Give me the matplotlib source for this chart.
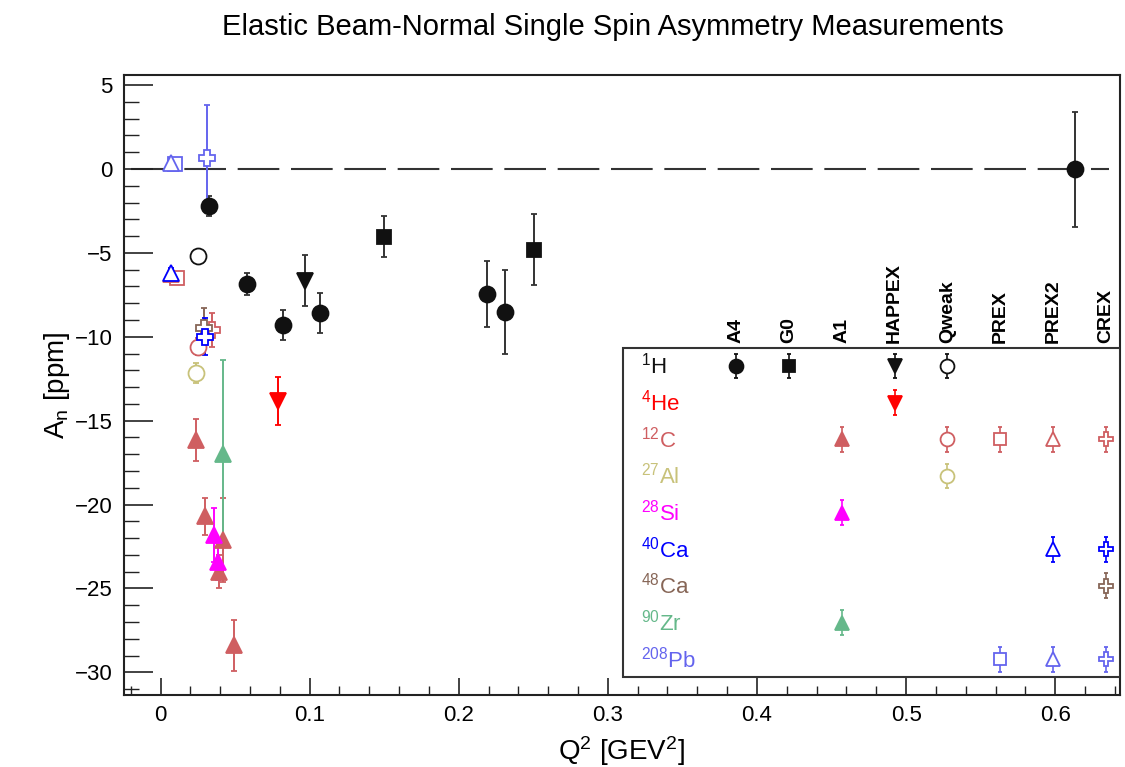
import matplotlib.pyplot as plt
from matplotlib.patches import Rectangle
from matplotlib.ticker import MultipleLocator, FuncFormatter

plt.rcParams['font.family'] = 'Liberation Sans'
plt.rcParams['mathtext.fontset'] = 'custom'
plt.rcParams['mathtext.rm'] = 'Liberation Sans'
plt.rcParams['mathtext.it'] = 'Liberation Sans:italic'
plt.rcParams['mathtext.bf'] = 'Liberation Sans:bold'

# legend columns / rows
experiments = ['A4', 'G0', 'A1', 'HAPPEX', 'Qweak', 'PREX', 'PREX2', 'CREX']
nuclei = ['$^{1}$H', '$^{4}$He', '$^{12}$C', '$^{27}$Al', '$^{28}$Si',
          '$^{40}$Ca', '$^{48}$Ca', '$^{90}$Zr', '$^{208}$Pb']
nucleus_colors = ['#111111', '#ff0000', '#cf5e61', '#c8c27a', '#ff00ff',
                  '#0000ff', '#876657', '#65b88a', '#6464ee']
# marker, filled
exp_markers = {'A4': ('o', True), 'G0': ('s', True), 'A1': ('^', True),
               'HAPPEX': ('v', True), 'Qweak': ('o', False), 'PREX': ('s', False),
               'PREX2': ('^', False), 'CREX': ('P', False)}

# ---- data: Q^2 [GeV^2], A_n [ppm], error [ppm] ----
# 1H
q_h_a4 = [0.0325, 0.0578, 0.0824, 0.107, 0.2188, 0.231, 0.613]
an_h_a4 = [-2.23, -6.85, -9.29, -8.57, -7.44, -8.50, -0.03]
err_h_a4 = [0.6, 0.65, 0.9, 1.2, 1.97, 2.5, 3.45]
q_h_g0 = [0.150, 0.2505]
an_h_g0 = [-4.03, -4.80]
err_h_g0 = [1.2, 2.1]
q_h_happex = [0.0969]
an_h_happex = [-6.65]
err_h_happex = [1.5]
q_h_qweak = [0.025]
an_h_qweak = [-5.19]
err_h_qweak = [0.11]
# 4He
q_he_happex = [0.0786]
an_he_happex = [-13.83]
err_he_happex = [1.45]
# 12C
q_c_a1 = [0.0236, 0.0298, 0.0417, 0.0395, 0.0493]
an_c_a1 = [-16.13, -20.7, -22.1, -24.0, -28.4]
err_c_a1 = [1.25, 1.1, 2.5, 1.0, 1.5]
q_c_qweak = [0.025]
an_c_qweak = [-10.6]
err_c_qweak = [0.5]
q_c_prex = [0.0108]
an_c_prex = [-6.5]
err_c_prex = [0.3]
q_c_prex2 = [0.0068]
an_c_prex2 = [-6.25]
err_c_prex2 = [0.3]
q_c_crex = [0.0343]
an_c_crex = [-9.6]
err_c_crex = [1.0]
# 27Al
q_al_qweak = [0.0238]
an_al_qweak = [-12.17]
err_al_qweak = [0.6]
# 28Si
q_si_a1 = [0.0361, 0.0383]
an_si_a1 = [-21.8, -23.4]
err_si_a1 = [1.6, 1.1]
# 40Ca
q_ca40_prex2 = [0.0068]
an_ca40_prex2 = [-6.2]
err_ca40_prex2 = [0.3]
q_ca40_crex = [0.0298]
an_ca40_crex = [-10.0]
err_ca40_crex = [1.1]
# 48Ca
q_ca48_crex = [0.0294]
an_ca48_crex = [-9.5]
err_ca48_crex = [1.2]
# 90Zr
q_zr_a1 = [0.0421]
an_zr_a1 = [-16.96]
err_zr_a1 = [5.6]
# 208Pb
q_pb_prex = [0.0095]
an_pb_prex = [0.3]
err_pb_prex = [0.2]
q_pb_prex2 = [0.0068]
an_pb_prex2 = [0.35]
err_pb_prex2 = [0.1]
q_pb_crex = [0.0314]
an_pb_crex = [0.65]
err_pb_crex = [3.15]

# (row, experiment, q, an, err) in drawing order
series = [
    (0, 'A4', q_h_a4, an_h_a4, err_h_a4),
    (0, 'G0', q_h_g0, an_h_g0, err_h_g0),
    (0, 'HAPPEX', q_h_happex, an_h_happex, err_h_happex),
    (0, 'Qweak', q_h_qweak, an_h_qweak, err_h_qweak),
    (1, 'HAPPEX', q_he_happex, an_he_happex, err_he_happex),
    (2, 'A1', q_c_a1, an_c_a1, err_c_a1),
    (2, 'Qweak', q_c_qweak, an_c_qweak, err_c_qweak),
    (2, 'PREX', q_c_prex, an_c_prex, err_c_prex),
    (2, 'PREX2', q_c_prex2, an_c_prex2, err_c_prex2),
    (2, 'CREX', q_c_crex, an_c_crex, err_c_crex),
    (3, 'Qweak', q_al_qweak, an_al_qweak, err_al_qweak),
    (7, 'A1', q_zr_a1, an_zr_a1, err_zr_a1),
    (4, 'A1', q_si_a1, an_si_a1, err_si_a1),
    (6, 'CREX', q_ca48_crex, an_ca48_crex, err_ca48_crex),
    (5, 'PREX2', q_ca40_prex2, an_ca40_prex2, err_ca40_prex2),
    (5, 'CREX', q_ca40_crex, an_ca40_crex, err_ca40_crex),
    (8, 'PREX', q_pb_prex, an_pb_prex, err_pb_prex),
    (8, 'PREX2', q_pb_prex2, an_pb_prex2, err_pb_prex2),
    (8, 'CREX', q_pb_crex, an_pb_crex, err_pb_crex),
]

fig = plt.figure(figsize=(11.25, 7.67), dpi=100)
ax = fig.add_axes([0.1098, 0.0939, 0.8858, 0.8083])

ax.plot([-0.0195, 0.636], [0, 0], color='#333333', lw=1.5, dashes=(20, 5.6), zorder=1)

def marker_kw(exp, color, ms):
    m, filled = exp_markers[exp]
    size = {'o': ms, 's': ms * 0.9, '^': ms * 0.95, 'v': ms * 0.95, 'P': ms}[m]
    return dict(fmt=m, color=color, ms=size, mfc=color if filled else 'white',
                mec=color, mew=1.3)

for row, exp, q, an, err in series:
    c = nucleus_colors[row]
    ecol = '#333333' if row == 0 else c
    ax.errorbar(q, an, yerr=err, ecolor=ecol, elinewidth=1.4, capsize=2.5,
                capthick=1.2, zorder=3, **marker_kw(exp, c, 11.5))

# legend box
col_x = [0.6147 + 0.0530 * i for i in range(len(experiments))]
row_y = [0.5306 - 0.0591 * j for j in range(len(nuclei))]
ax.add_patch(Rectangle((0.501, 0.0295), 0.499, 0.5295, transform=ax.transAxes,
                       facecolor='white', edgecolor='#333333', lw=1.5, zorder=5))
for i, name in enumerate(experiments):
    ax.text(col_x[i], 0.568, name, rotation=90, ha='center', va='bottom',
            fontsize=14, fontweight='bold', transform=ax.transAxes, zorder=6)
for j, name in enumerate(nuclei):
    ax.text(0.519, row_y[j], name, ha='left', va='center', fontsize=16,
            color=nucleus_colors[j], transform=ax.transAxes, zorder=6)
for row, exp, q, an, err in series:
    c = nucleus_colors[row]
    ax.errorbar([col_x[experiments.index(exp)]], [row_y[row]], yerr=0.02,
                ecolor=c, elinewidth=1.2, capsize=1.5, transform=ax.transAxes,
                zorder=7, **marker_kw(exp, c, 10))

ax.set_xlim(-0.0248, 0.6435)
ax.set_ylim(-31.35, 5.6)
ax.xaxis.set_major_locator(MultipleLocator(0.1))
ax.xaxis.set_minor_locator(MultipleLocator(0.02))
ax.yaxis.set_major_locator(MultipleLocator(5))
ax.yaxis.set_minor_locator(MultipleLocator(1))
ax.xaxis.set_major_formatter(FuncFormatter(lambda v, p: '0' if abs(v) < 1e-9 else f'{v:g}'))
ax.tick_params(which='both', direction='in', top=False, right=False,
               labelsize=16, color='#222222')
ax.tick_params(axis='y', which='major', length=21, width=1.2, pad=8)
ax.tick_params(axis='y', which='minor', length=10.5, width=1.0)
ax.tick_params(axis='x', which='major', length=12.5, width=1.2, pad=7)
ax.tick_params(axis='x', which='minor', length=6.5, width=1.0)
for s in ax.spines.values():
    s.set_linewidth(1.5)
    s.set_color('#222222')

ax.set_xlabel('Q$^{2}$ [GEV$^{2}$]', fontsize=20, va='center')
ax.xaxis.set_label_coords(0.5, -0.091)
ax.set_ylabel('A$_{\\mathrm{n}}$ [ppm]', fontsize=20)
ax.yaxis.set_label_coords(-0.052, 0.5)

fig.text(0.545, 1 - 35 / 767, 'Elastic Beam-Normal Single Spin Asymmetry Measurements',
         ha='center', va='baseline', fontsize=21)

fig.savefig('out.png', dpi=100)
